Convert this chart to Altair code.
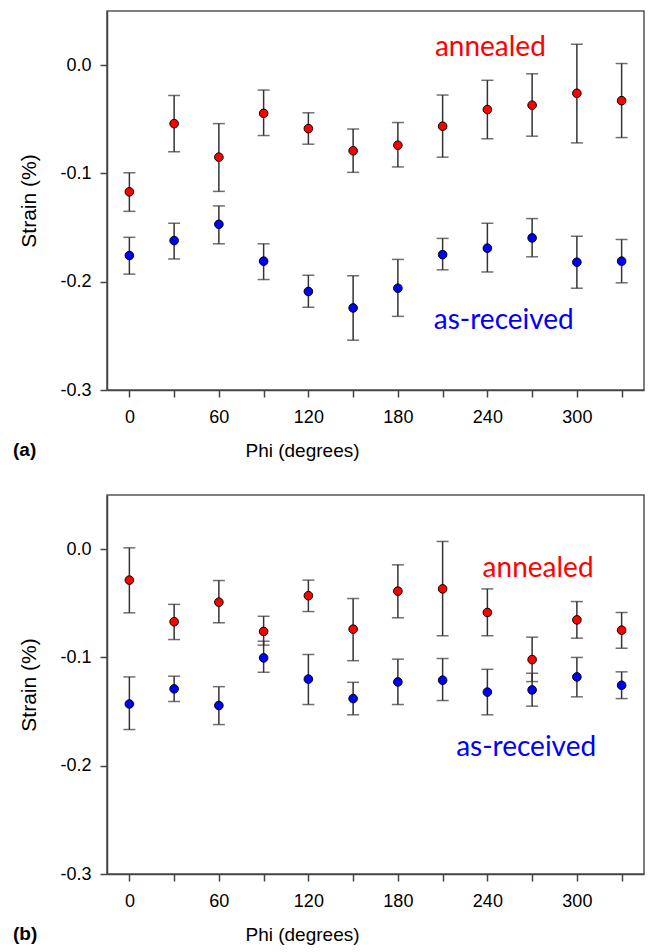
import altair as alt
import pandas as pd

phi = [0, 30, 60, 90, 120, 150, 180, 210, 240, 270, 300, 330]

# Panel (a)
a_ann_val = [-0.117, -0.054, -0.085, -0.0445, -0.0586, -0.079, -0.074, -0.0564, -0.041, -0.037, -0.026, -0.0328]
a_ann_hi = [-0.0994, -0.028, -0.054, -0.023, -0.044, -0.059, -0.053, -0.0276, -0.014, -0.008, 0.0193, 0.0015]
a_ann_lo = [-0.135, -0.080, -0.1166, -0.065, -0.073, -0.099, -0.094, -0.085, -0.068, -0.0656, -0.0718, -0.0669]

a_rec_val = [-0.1758, -0.162, -0.147, -0.181, -0.209, -0.2242, -0.206, -0.175, -0.169, -0.1595, -0.182, -0.181]
a_rec_hi = [-0.159, -0.146, -0.130, -0.165, -0.194, -0.1945, -0.1794, -0.160, -0.146, -0.1417, -0.158, -0.161]
a_rec_lo = [-0.193, -0.179, -0.165, -0.198, -0.2236, -0.254, -0.232, -0.189, -0.191, -0.177, -0.206, -0.201]

# Panel (b)
b_ann_val = [-0.0286, -0.067, -0.049, -0.076, -0.043, -0.0739, -0.0388, -0.0367, -0.0585, -0.102, -0.0653, -0.0748]
b_ann_hi = [0.0012, -0.051, -0.029, -0.062, -0.0286, -0.0456, -0.0145, 0.0071, -0.0367, -0.0813, -0.0484, -0.0585]
b_ann_lo = [-0.0588, -0.0835, -0.068, -0.0886, -0.0576, -0.103, -0.0634, -0.080, -0.080, -0.1223, -0.0822, -0.0915]

b_rec_val = [-0.143, -0.129, -0.1444, -0.1004, -0.120, -0.138, -0.1226, -0.121, -0.132, -0.130, -0.118, -0.1257]
b_rec_hi = [-0.118, -0.1173, -0.127, -0.085, -0.0973, -0.123, -0.1016, -0.101, -0.111, -0.1146, -0.100, -0.1133]
b_rec_lo = [-0.1666, -0.1407, -0.162, -0.1137, -0.1435, -0.153, -0.1435, -0.1398, -0.153, -0.145, -0.1364, -0.138]

series_names = ["annealed", "as-received"]
series_colors = ["#ff0000", "#0000ff"]

# in-plot labels (data coordinates)
a_label_phi = [242, 251]
a_label_strain = [0.016, -0.236]
b_label_phi = [274, 266]
b_label_strain = [-0.018, -0.184]

x_ticks = list(range(0, 331, 30))
y_ticks = [-0.3, -0.2, -0.1, 0.0]

W, H = 537, 379


def make_panel(ann, rec, lab_phi, lab_strain, tag):
    rows = []
    for name, (v, hi, lo) in zip(series_names, [ann, rec]):
        for p, vv, h, l in zip(phi, v, hi, lo):
            rows.append({"phi": p, "val": vv, "hi": h, "lo": l, "series": name})
    df = pd.DataFrame(rows)

    xs = alt.Scale(domain=[-15, 345], nice=False, zero=False)
    ys = alt.Scale(domain=[-0.3, 0.05], nice=False, zero=False)
    cs = alt.Scale(domain=series_names, range=series_colors)

    x_enc = alt.X(
        "phi:Q", scale=xs,
        axis=alt.Axis(
            values=x_ticks,
            labelExpr="datum.value % 60 === 0 ? datum.label : ''",
            title="Phi (degrees)", grid=False, tickSize=7,
            labelPadding=11, titlePadding=15, titleX=195, titleFontSize=19,
        ),
    )
    y_enc = alt.Y(
        "val:Q", scale=ys,
        axis=alt.Axis(
            values=y_ticks,
            labelExpr="datum.value === 0 ? '0.0' : '-' + format(abs(datum.value), '.1f')",
            title="Strain (%)", grid=False, tickSize=7,
            labelPadding=9, titlePadding=20, titleFontSize=21,
        ),
    )
    base = alt.Chart(df)
    rules = base.mark_rule(color="#333333", strokeWidth=1.5).encode(
        x=x_enc, y=alt.Y("lo:Q", scale=ys), y2="hi:Q"
    )
    cap_lo = base.mark_tick(orient="horizontal", size=12, thickness=1.5, color="#333333").encode(
        x=alt.X("phi:Q", scale=xs), y=alt.Y("lo:Q", scale=ys)
    )
    cap_hi = base.mark_tick(orient="horizontal", size=12, thickness=1.5, color="#333333").encode(
        x=alt.X("phi:Q", scale=xs), y=alt.Y("hi:Q", scale=ys)
    )
    pts = base.mark_circle(size=74, stroke="black", strokeWidth=1, opacity=1).encode(
        x=alt.X("phi:Q", scale=xs), y=y_enc,
        fill=alt.Fill("series:N", scale=cs, legend=None),
    )
    layers = [rules, cap_lo, cap_hi, pts]
    for name, col, lp, ls in zip(series_names, series_colors, lab_phi, lab_strain):
        ldf = pd.DataFrame({"phi": [lp], "val": [ls], "label": [name]})
        layers.append(
            alt.Chart(ldf).mark_text(
                font="Lato", fontSize=28, align="center", baseline="middle", color=col
            ).encode(
                x=alt.X("phi:Q", scale=xs), y=alt.Y("val:Q", scale=ys), text="label:N"
            )
        )
    return alt.layer(*layers).properties(
        width=W, height=H,
        title=alt.TitleParams(
            tag, orient="bottom", anchor="start", frame="bounds",
            fontSize=19, fontWeight="bold", font="Liberation Sans", color="black",
            offset=-19, dx=-6,
        ),
    )


pa = make_panel((a_ann_val, a_ann_hi, a_ann_lo), (a_rec_val, a_rec_hi, a_rec_lo), a_label_phi, a_label_strain, "(a)")
pb = make_panel((b_ann_val, b_ann_hi, b_ann_lo), (b_rec_val, b_rec_hi, b_rec_lo), b_label_phi, b_label_strain, "(b)")

chart = alt.vconcat(pa, pb, spacing=33).properties(
    padding={"left": 4, "top": 2, "right": 0, "bottom": 0},
).configure(
    font="Liberation Sans",
).configure_view(
    stroke="#555555", strokeWidth=1.5,
).configure_axis(
    labelFont="Liberation Sans", labelFontSize=18, labelColor="black",
    titleFont="Liberation Sans", titleColor="black", titleFontWeight="normal",
    domainColor="#444444", domainWidth=1.5, tickColor="#444444", tickWidth=1.5,
)

chart.save("out.html", embed_options={"renderer": "svg", "actions": False})
